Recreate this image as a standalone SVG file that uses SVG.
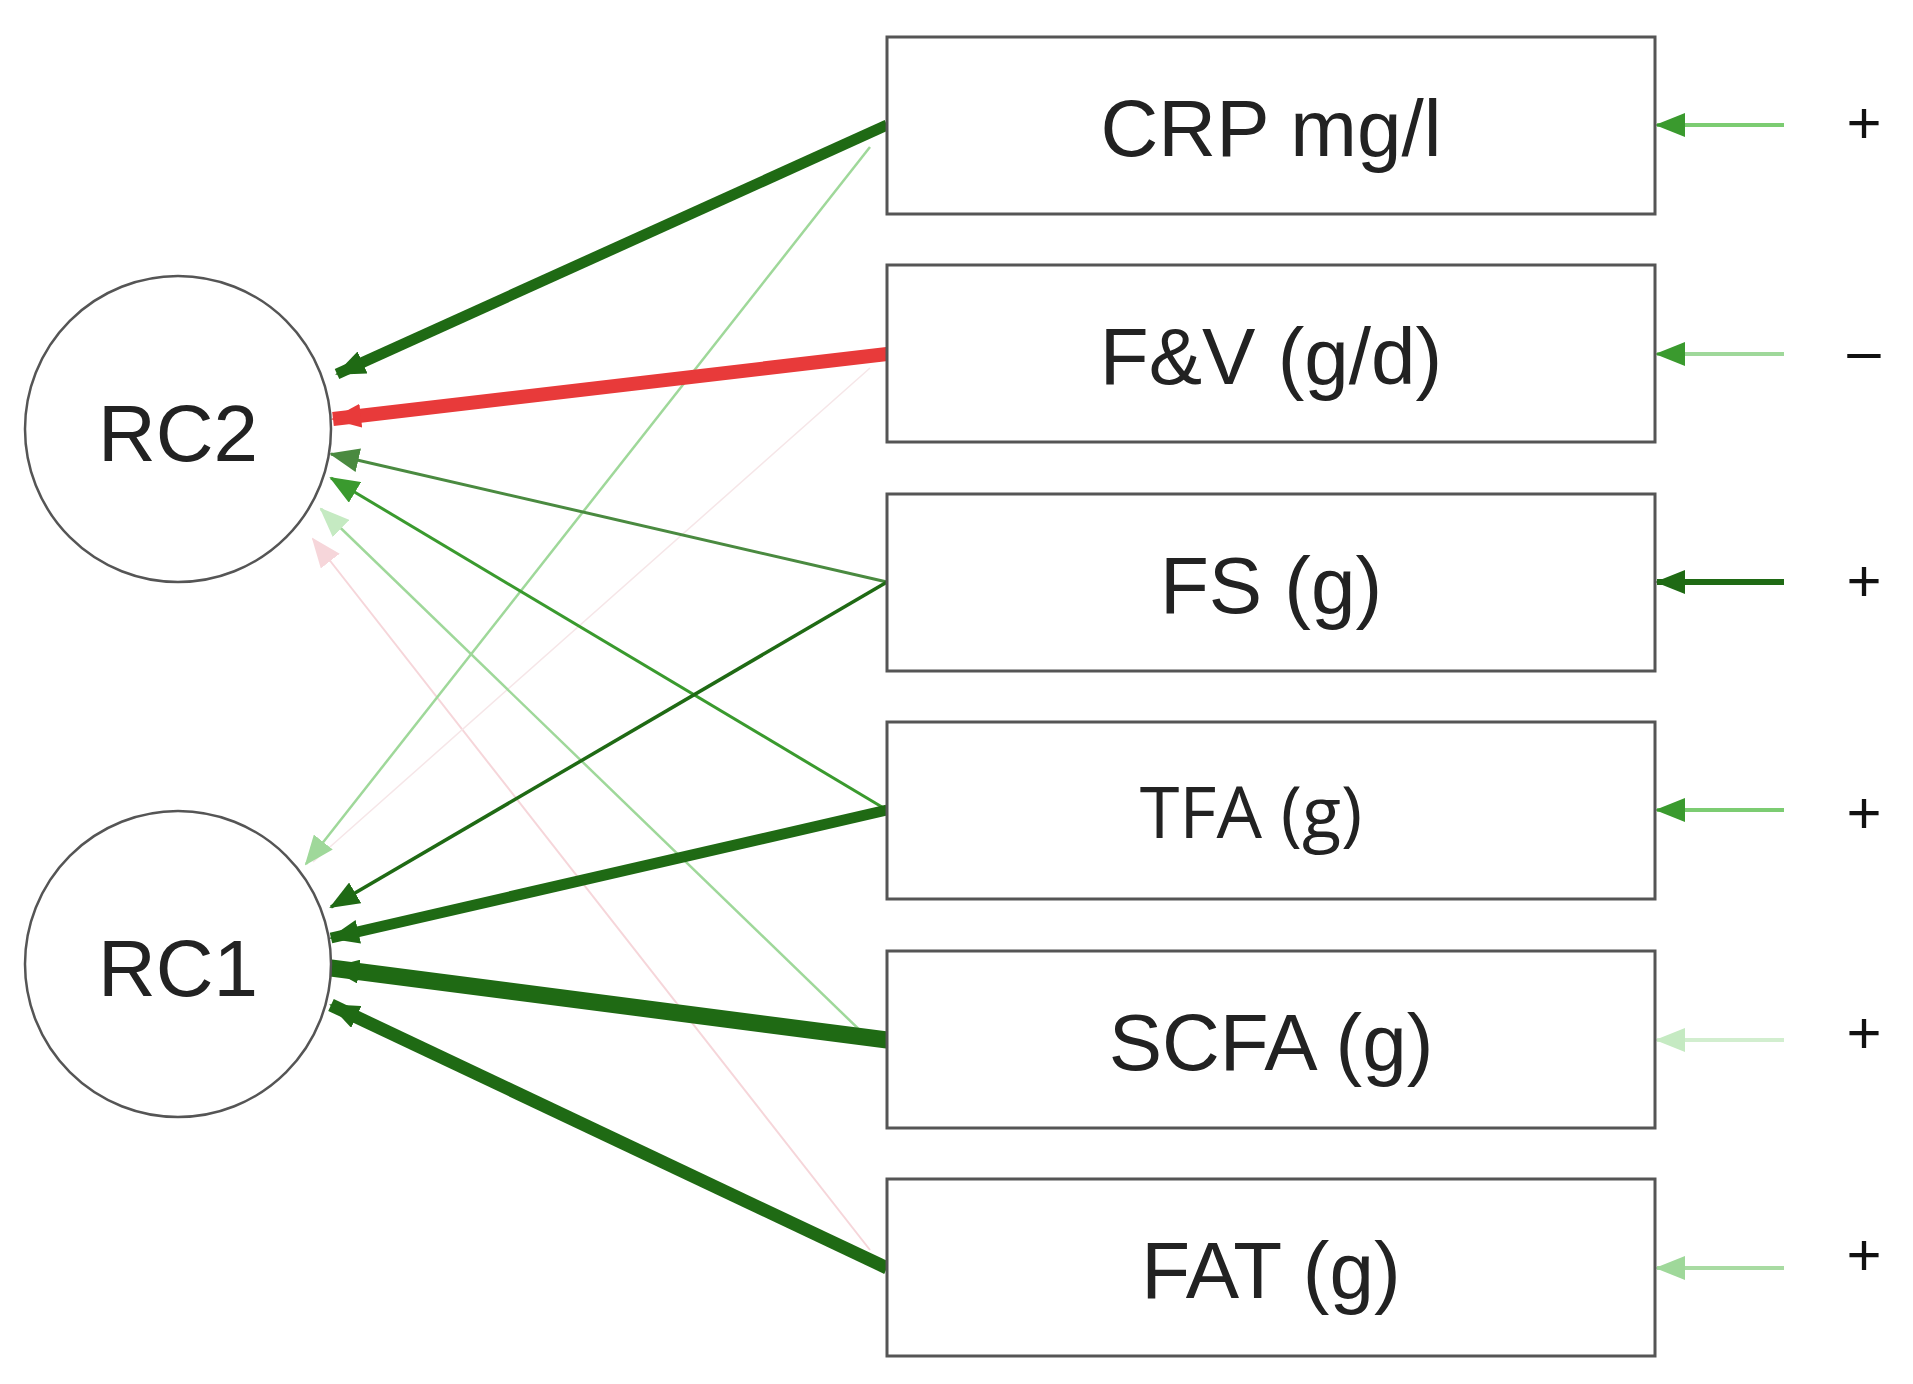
<svg xmlns="http://www.w3.org/2000/svg" width="1913" height="1384" viewBox="0 0 1913 1384">
<style>
.box{fill:#fff;stroke:#555;stroke-width:3}
.c{fill:#fff;stroke:#555;stroke-width:2.5}
.t{font-family:"Liberation Sans",Arial,sans-serif;font-size:80px;fill:#222;text-anchor:middle;dominant-baseline:central}
.s{font-family:"Liberation Sans",Arial,sans-serif;font-size:60px;fill:#111;text-anchor:middle;dominant-baseline:central}
line{fill:none}
</style>
<defs>
<marker id="dg" markerUnits="userSpaceOnUse" markerWidth="30" markerHeight="24" refX="28" refY="12" orient="auto"><path d="M0,0L30,12L0,24z" fill="#1f6a14"/></marker>
<marker id="rd" markerUnits="userSpaceOnUse" markerWidth="30" markerHeight="24" refX="28" refY="12" orient="auto"><path d="M0,0L30,12L0,24z" fill="#e83a3a"/></marker>
<marker id="mg" markerUnits="userSpaceOnUse" markerWidth="30" markerHeight="24" refX="28" refY="12" orient="auto"><path d="M0,0L30,12L0,24z" fill="#3a9a2e"/></marker>
<marker id="fg" markerUnits="userSpaceOnUse" markerWidth="30" markerHeight="24" refX="28" refY="12" orient="auto"><path d="M0,0L30,12L0,24z" fill="#4a8a40"/></marker>
<marker id="lg" markerUnits="userSpaceOnUse" markerWidth="30" markerHeight="24" refX="28" refY="12" orient="auto"><path d="M0,0L30,12L0,24z" fill="#9fd89a"/></marker>
<marker id="vl" markerUnits="userSpaceOnUse" markerWidth="30" markerHeight="24" refX="28" refY="12" orient="auto"><path d="M0,0L30,12L0,24z" fill="#c5eac2"/></marker>
<marker id="pk" markerUnits="userSpaceOnUse" markerWidth="30" markerHeight="24" refX="28" refY="12" orient="auto"><path d="M0,0L30,12L0,24z" fill="#f6d6da"/></marker>
</defs>
<g id="connectors">
<line x1="870" y1="1250" x2="313" y2="539" stroke="#f6d6da" stroke-width="2" marker-end="url(#pk)"/>
<line x1="870" y1="368" x2="313" y2="862" stroke="#f6e6e8" stroke-width="1.5"/>
<line x1="870" y1="147" x2="306" y2="864" stroke="#9fd89a" stroke-width="2.5" marker-end="url(#lg)"/>
<line x1="870" y1="1040" x2="321" y2="509" stroke="#9fd89a" stroke-width="2.5" marker-end="url(#vl)"/>
<line x1="887" y1="582" x2="331" y2="454" stroke="#4a8a40" stroke-width="3" marker-end="url(#fg)"/>
<line x1="887" y1="810" x2="331" y2="478" stroke="#3a9a2e" stroke-width="3" marker-end="url(#mg)"/>
<line x1="887" y1="582" x2="331" y2="907" stroke="#1f6a14" stroke-width="3.5" marker-end="url(#dg)"/>
<line x1="887" y1="125" x2="337" y2="374" stroke="#1f6a14" stroke-width="11" marker-end="url(#dg)"/>
<line x1="887" y1="354" x2="333" y2="419" stroke="#e83a3a" stroke-width="14" marker-end="url(#rd)"/>
<line x1="887" y1="810" x2="331" y2="938" stroke="#1f6a14" stroke-width="11" marker-end="url(#dg)"/>
<line x1="887" y1="1040" x2="331" y2="968" stroke="#1f6a14" stroke-width="17" marker-end="url(#dg)"/>
<line x1="887" y1="1268" x2="331" y2="1005" stroke="#1f6a14" stroke-width="13" marker-end="url(#dg)"/>
<line x1="1784" y1="125" x2="1657" y2="125" stroke="#7ccc72" stroke-width="4" marker-end="url(#mg)"/>
<line x1="1784" y1="354" x2="1657" y2="354" stroke="#9fd89a" stroke-width="4" marker-end="url(#mg)"/>
<line x1="1784" y1="582" x2="1657" y2="582" stroke="#1f6a14" stroke-width="6" marker-end="url(#dg)"/>
<line x1="1784" y1="810" x2="1657" y2="810" stroke="#7ccc72" stroke-width="4" marker-end="url(#mg)"/>
<line x1="1784" y1="1040" x2="1657" y2="1040" stroke="#d2eecf" stroke-width="4" marker-end="url(#vl)"/>
<line x1="1784" y1="1268" x2="1657" y2="1268" stroke="#a8dba2" stroke-width="4" marker-end="url(#lg)"/>
</g>
<g id="RC2"><circle class="c" cx="178" cy="429" r="153"/><text class="t" x="178" y="433">RC2</text></g>
<g id="RC1"><circle class="c" cx="178" cy="964" r="153"/><text class="t" x="178" y="968">RC1</text></g>
<g id="CRP"><rect class="box" x="887" y="37" width="768" height="177"/><text class="t" x="1271" y="128">CRP mg/l</text><text class="s" x="1864" y="122">+</text></g>
<g id="FV"><rect class="box" x="887" y="265" width="768" height="177"/><text class="t" x="1271" y="356">F&amp;V (g/d)</text><text class="s" x="1864" y="350">–</text></g>
<g id="FS"><rect class="box" x="887" y="494" width="768" height="177"/><text class="t" x="1271" y="585">FS (g)</text><text class="s" x="1864" y="580">+</text></g>
<g id="TFA"><rect class="box" x="887" y="722" width="768" height="177"/><text class="t" x="1251" y="810" style="font-family:'Open Sans',sans-serif;font-size:72px">TFA (g)</text><text class="s" x="1864" y="812">+</text></g>
<g id="SCFA"><rect class="box" x="887" y="951" width="768" height="177"/><text class="t" x="1271" y="1042">SCFA (g)</text><text class="s" x="1864" y="1032">+</text></g>
<g id="FAT"><rect class="box" x="887" y="1179" width="768" height="177"/><text class="t" x="1271" y="1270">FAT (g)</text><text class="s" x="1864" y="1254">+</text></g>
</svg>
